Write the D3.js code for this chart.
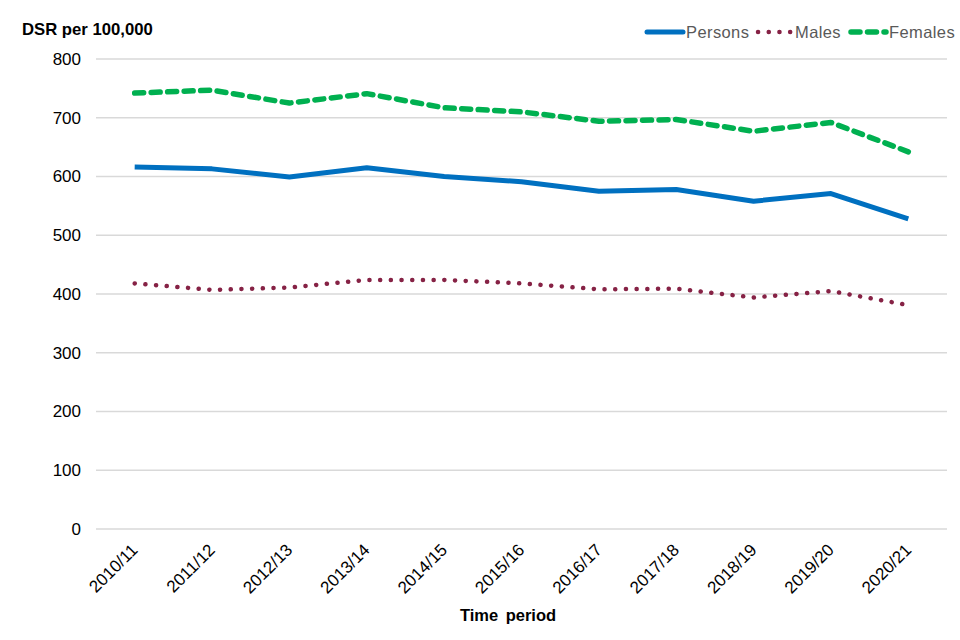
<!DOCTYPE html>
<html lang="en">
<head>
<meta charset="UTF-8">
<title>DSR per 100,000</title>
<script src="https://d3js.org/d3.v7.min.js"></script>
<style>
  body { margin: 0; background: #fff; }
  text { font-family: "Liberation Sans", Arial, sans-serif; }
  .grid line { stroke: #d9d9d9; stroke-width: 1.3; }
</style>
</head>
<body>
<script>
const periods = ["2010/11","2011/12","2012/13","2013/14","2014/15","2015/16","2016/17","2017/18","2018/19","2019/20","2020/21"];
const persons = [616, 613, 599, 615, 600, 591, 575, 578, 558, 571, 528];
const males   = [418, 407, 411, 424, 424, 418, 408, 409, 394, 405, 381];
const females = [742, 747, 725, 741, 717, 710, 694, 697, 677, 692, 642];
const yTicks = [0, 100, 200, 300, 400, 500, 600, 700, 800];

const width = 960, height = 640;
const margin = {left: 96, right: 13, top: 59, bottom: 111};

const svg = d3.select("body").append("svg")
    .attr("width", width)
    .attr("height", height);

const x = d3.scaleBand()
    .domain(periods)
    .range([margin.left, width - margin.right]);

const y = d3.scaleLinear()
    .domain([0, 800])
    .range([height - margin.bottom, margin.top]);

// gridlines
svg.append("g")
    .attr("class", "grid")
    .selectAll("line")
    .data(yTicks)
    .join("line")
    .attr("x1", margin.left)
    .attr("x2", width - margin.right)
    .attr("y1", d => y(d))
    .attr("y2", d => y(d));

// y axis labels
svg.append("g")
    .selectAll("text")
    .data(yTicks)
    .join("text")
    .attr("x", 81)
    .attr("y", d => y(d))
    .attr("dy", "0.35em")
    .attr("text-anchor", "end")
    .attr("font-size", 17)
    .attr("fill", "#000")
    .text(d => d);

// x axis labels
svg.append("g")
    .selectAll("text")
    .data(periods)
    .join("text")
    .attr("transform", d => `translate(${x(d) + x.bandwidth() / 2 + 4}, 551) rotate(-45)`)
    .attr("text-anchor", "end")
    .attr("font-size", 17)
    .attr("fill", "#000")
    .text(d => d);

svg.append("text")
    .attr("x", 22)
    .attr("y", 35)
    .attr("font-size", 16.7)
    .attr("font-weight", "bold")
    .text("DSR per 100,000");

svg.append("text")
    .attr("x", 508)
    .attr("y", 621)
    .attr("text-anchor", "middle")
    .attr("font-size", 16.5)
    .attr("font-weight", "bold")
    .attr("word-spacing", 3)
    .text("Time period");

const series = [
    {name: "Persons", values: persons, color: "#0070C0", width: 5, dash: null},
    {name: "Males", values: males, color: "#862245", width: 4.5, dash: "0.1 10.6"},
    {name: "Females", values: females, color: "#00B050", width: 5.5, dash: "9 7.5"}
];

const line = d3.line()
    .x((d, i) => x(periods[i]) + x.bandwidth() / 2)
    .y(d => y(d));

svg.append("g")
    .selectAll("path")
    .data(series)
    .join("path")
    .attr("d", d => line(d.values))
    .attr("fill", "none")
    .attr("stroke", d => d.color)
    .attr("stroke-width", d => d.width)
    .attr("stroke-dasharray", d => d.dash)
    .attr("stroke-linecap", d => d.dash ? "round" : "butt")
    .attr("stroke-linejoin", "round");

// legend
const legendPos = [{lx: 647, tx: 686}, {lx: 758, tx: 795}, {lx: 851, tx: 889}];
const legend = svg.append("g")
    .selectAll("g")
    .data(series)
    .join("g");

legend.append("line")
    .attr("x1", (d, i) => legendPos[i].lx)
    .attr("x2", (d, i) => legendPos[i].tx - 3)
    .attr("y1", 32)
    .attr("y2", 32)
    .attr("stroke", d => d.color)
    .attr("stroke-width", d => d.width)
    .attr("stroke-dasharray", d => d.dash)
    .attr("stroke-linecap", "round");

legend.append("text")
    .attr("x", (d, i) => legendPos[i].tx)
    .attr("y", 32)
    .attr("dy", "0.35em")
    .attr("font-size", 16.5)
    .attr("fill", "#595959")
    .attr("letter-spacing", 0.4)
    .text(d => d.name);
</script>
</body>
</html>
